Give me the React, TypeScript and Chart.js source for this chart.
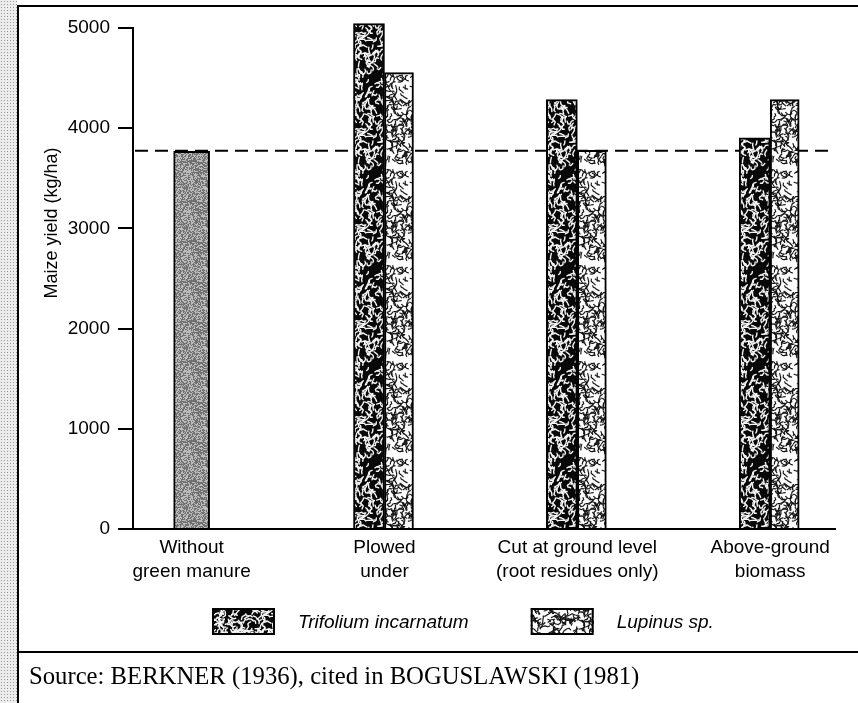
import React, { useEffect, useRef } from "react";
import { Chart, registerables } from "chart.js";

Chart.register(...registerables);

// ---- data ----
const categories: string[][] = [
  ["Without", "green manure"],
  ["Plowed", "under"],
  ["Cut at ground level", "(root residues only)"],
  ["Above-ground", "biomass"],
];
const controlValues: (number | null)[] = [3770, null, null, null];
const trifoliumValues: (number | null)[] = [null, 5045, 4285, 3905];
const lupinusValues: (number | null)[] = [null, 4555, 3780, 4285];
const controlLevel = 3775;
const yTicks: number[] = [0, 1000, 2000, 3000, 4000, 5000];
const seriesNames: string[] = ["Without green manure", "Trifolium incarnatum", "Lupinus sp."];
const yTitle = "Maize yield (kg/ha)";
const sourceText = "Source: BERKNER (1936), cited in BOGUSLAWSKI (1981)";

const SANS = "'Liberation Sans', Arial, Helvetica, sans-serif";
const SERIF = "'Liberation Serif', 'Times New Roman', serif";

// deterministic generator used only for the texture fill (styling, not data)
function makeGen(seed: number) {
  let s = seed >>> 0;
  return () => {
    s = (s + 0x6d2b79f5) >>> 0;
    let t = s;
    t = Math.imul(t ^ (t >>> 15), t | 1);
    t ^= t + Math.imul(t ^ (t >>> 7), t | 61);
    return ((t ^ (t >>> 14)) >>> 0) / 4294967296;
  };
}

function wormTile(bg: string, fg: string, count: number, lw: number, seed: number) {
  const size = 96;
  const gen = makeGen(seed);
  const c = document.createElement("canvas");
  c.width = size;
  c.height = size;
  const g = c.getContext("2d")!;
  g.fillStyle = bg;
  g.fillRect(0, 0, size, size);
  g.strokeStyle = fg;
  g.lineWidth = lw;
  g.lineCap = "round";
  g.lineJoin = "round";
  for (let k = 0; k < count; k++) {
    const pts: [number, number][] = [];
    let x = gen() * size;
    let y = gen() * size;
    let a = gen() * Math.PI * 2;
    pts.push([x, y]);
    const segs = 2 + Math.floor(gen() * 3);
    for (let s = 0; s < segs; s++) {
      a += (gen() - 0.5) * 2.6;
      const step = 1.6 + gen() * 1.6;
      x += Math.cos(a) * step;
      y += Math.sin(a) * step;
      pts.push([x, y]);
    }
    for (const dx of [-size, 0, size]) {
      for (const dy of [-size, 0, size]) {
        g.beginPath();
        g.moveTo(pts[0][0] + dx, pts[0][1] + dy);
        for (let i = 1; i < pts.length; i++) g.lineTo(pts[i][0] + dx, pts[i][1] + dy);
        g.stroke();
      }
    }
  }
  return c;
}

function stippleTile() {
  const size = 40;
  const gen = makeGen(7);
  const c = document.createElement("canvas");
  c.width = size;
  c.height = size;
  const g = c.getContext("2d")!;
  const img = g.createImageData(size, size);
  for (let i = 0; i < size * size; i++) {
    const v = gen() > 0.5 ? 112 : 188;
    img.data[i * 4] = v;
    img.data[i * 4 + 1] = v;
    img.data[i * 4 + 2] = v;
    img.data[i * 4 + 3] = 255;
  }
  g.putImageData(img, 0, 0);
  return c;
}

export default function App() {
  const ref = useRef<HTMLCanvasElement | null>(null);

  useEffect(() => {
    const canvas = ref.current;
    if (!canvas) return;
    const ctx = canvas.getContext("2d")!;
    const darkPat = ctx.createPattern(wormTile("#080808", "#f4f4f4", 400, 1.4, 11), "repeat")!;
    const lightPat = ctx.createPattern(wormTile("#fcfcfc", "#141414", 480, 1.15, 97), "repeat")!;
    const grayPat = ctx.createPattern(stippleTile(), "repeat")!;

    const decor = {
      id: "decor",
      beforeDatasetsDraw(chart: any) {
        const { ctx: c, chartArea, scales } = chart;
        const y = scales.y.getPixelForValue(controlLevel);
        c.save();
        c.strokeStyle = "#000";
        c.lineWidth = 2;
        c.setLineDash([13, 7]);
        c.beginPath();
        c.moveTo(chartArea.left + 2, y);
        c.lineTo(chartArea.right, y);
        c.stroke();
        c.restore();
      },
      afterDraw(chart: any) {
        const c = chart.ctx;
        // y axis title
        c.save();
        c.translate(52, 223);
        c.rotate(-Math.PI / 2);
        c.font = `18px ${SANS}`;
        c.fillStyle = "#000";
        c.textAlign = "center";
        c.textBaseline = "middle";
        c.fillText(yTitle, 0, 0);
        c.restore();
        // legend
        const items = [1, 2];
        let x = 212;
        const top = 608;
        const bw = 63;
        const bh = 27;
        c.save();
        c.font = `italic 19px ${SANS}`;
        c.textBaseline = "middle";
        c.textAlign = "left";
        items.forEach((di) => {
          const ds = chart.data.datasets[di];
          c.fillStyle = ds.backgroundColor;
          c.fillRect(x, top, bw, bh);
          c.strokeStyle = "#000";
          c.lineWidth = 2;
          c.strokeRect(x + 1, top + 1, bw - 2, bh - 2);
          const tx = x + bw + 23;
          c.fillStyle = "#000";
          c.fillText(ds.label, tx, top + bh / 2 + 1);
          x = tx + c.measureText(ds.label).width + 62;
        });
        c.restore();
      },
    };

    const chart = new Chart(canvas, {
      type: "bar",
      data: {
        labels: categories.map((_, i) => i),
        datasets: [
          {
            label: seriesNames[0],
            data: controlValues,
            backgroundColor: grayPat,
            borderColor: "#000",
            borderWidth: 2,
            grouped: false,
            barThickness: 36,
            maxBarThickness: 36,
            clip: false,
          } as any,
          {
            label: seriesNames[1],
            data: trifoliumValues,
            backgroundColor: darkPat,
            borderColor: "#000",
            borderWidth: 2,
            barThickness: 31,
            clip: false,
          } as any,
          {
            label: seriesNames[2],
            data: lupinusValues,
            backgroundColor: lightPat,
            borderColor: "#000",
            borderWidth: 2,
            barThickness: 29,
            clip: false,
          } as any,
        ],
      },
      options: {
        animation: false,
        responsive: false,
        layout: { padding: { left: 0, right: 23, top: 28, bottom: 0 } },
        plugins: {
          legend: { display: false },
          tooltip: { enabled: false },
          title: { display: false },
        },
        scales: {
          x: {
            type: "linear",
            min: -0.304,
            max: 3.336,
            offset: false,
            afterBuildTicks: (s: any) => {
              s.ticks = categories.map((_, i) => ({ value: i }));
            },
            afterFit: (s: any) => {
              s.height = 174;
            },
            grid: { display: true, drawOnChartArea: false, drawTicks: false, offset: false },
            border: { display: true, color: "#000", width: 2 },
            ticks: {
              callback: (v: any) => categories[Math.round(Number(v))] || "",
              font: { family: SANS, size: 19, lineHeight: 1.25 },
              color: "#000",
              padding: 7,
              maxRotation: 0,
              minRotation: 0,
              autoSkip: false,
            },
          },
          y: {
            type: "linear",
            min: 0,
            max: 5000,
            afterBuildTicks: (s: any) => {
              s.ticks = yTicks.map((v) => ({ value: v }));
            },
            afterFit: (s: any) => {
              s.width = 133;
            },
            grid: { display: true, drawOnChartArea: false, drawTicks: true, tickLength: 15, color: "#000", lineWidth: 2 },
            border: { display: true, color: "#000", width: 2 },
            ticks: {
              font: { family: SANS, size: 19 },
              color: "#000",
              padding: 8,
              callback: (v: any) => String(v),
            },
          },
        },
      } as any,
      plugins: [decor],
    });
    return () => chart.destroy();
  }, []);

  return (
    <div style={{ position: "fixed", left: 0, top: 0, width: 858, height: 703, background: "#fff", overflow: "hidden" }}>
      <canvas ref={ref} width={858} height={703} style={{ position: "absolute", left: 0, top: 0, width: 858, height: 703 }} />
      <div
        style={{
          position: "absolute",
          left: 0,
          top: 0,
          width: 17,
          height: 703,
          backgroundColor: "#ececec",
          backgroundImage: "radial-gradient(#9a9a9a 0.7px, transparent 0.9px)",
          backgroundSize: "3px 3px",
        }}
      />
      <div style={{ position: "absolute", left: 17, top: 6, width: 2, height: 697, background: "#000" }} />
      <div style={{ position: "absolute", left: 17, top: 5, width: 841, height: 2, background: "#000" }} />
      <div style={{ position: "absolute", left: 17, top: 651, width: 841, height: 2, background: "#000" }} />
      <div
        style={{
          position: "absolute",
          left: 29,
          top: 664,
          fontFamily: SERIF,
          fontSize: 24.7,
          lineHeight: 1,
          color: "#000",
          whiteSpace: "nowrap",
        }}
      >
        {sourceText}
      </div>
    </div>
  );
}
